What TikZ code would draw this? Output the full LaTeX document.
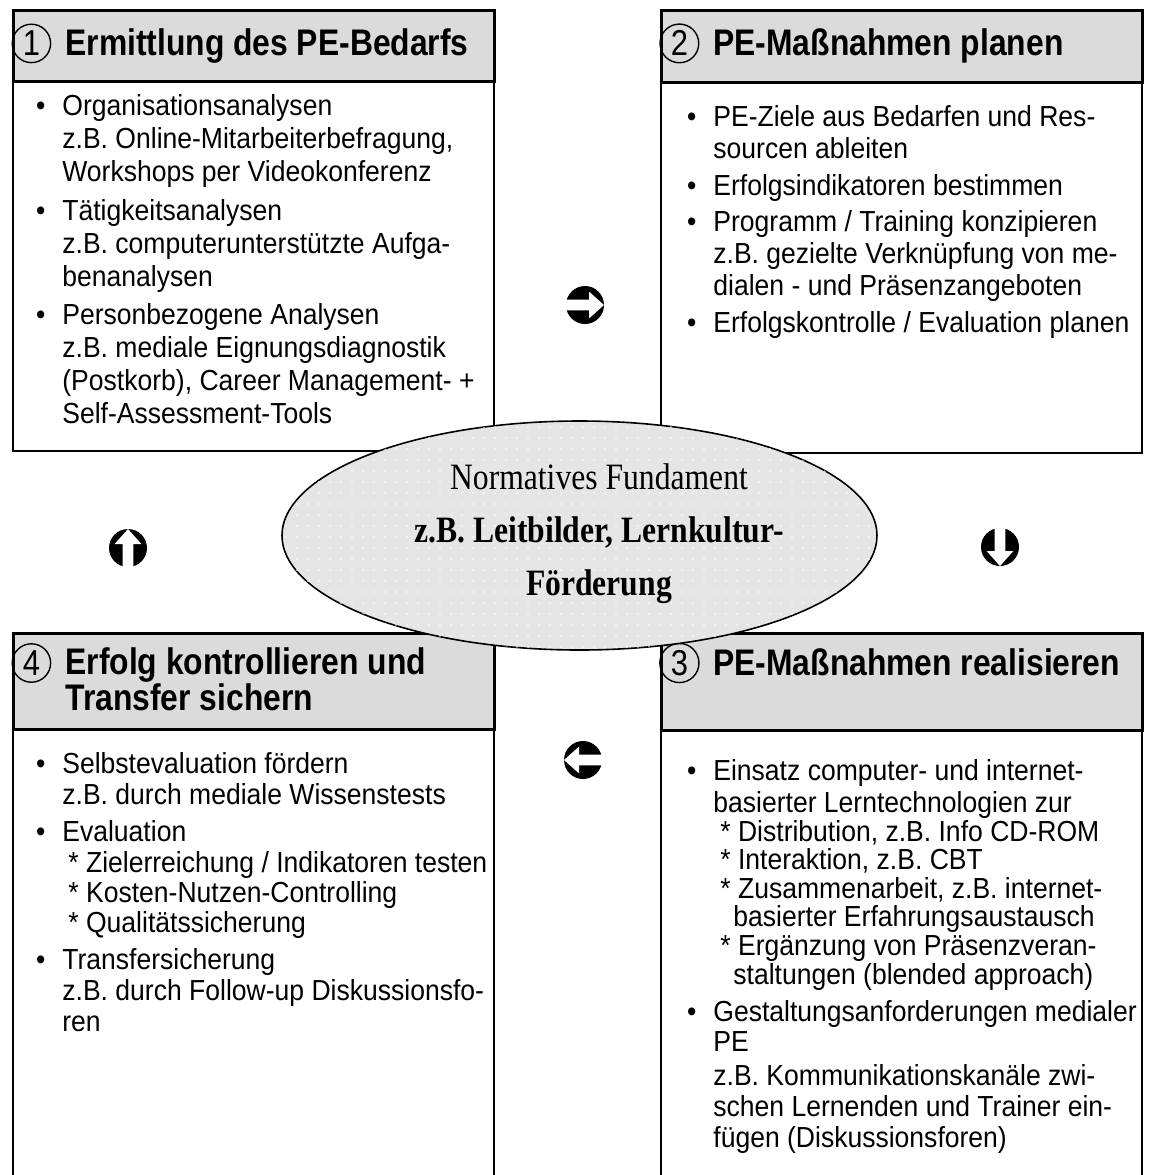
\documentclass[tikz,border=0pt]{standalone}
\usepackage{fontspec}
\setmainfont{Liberation Sans}[FakeStretch=0.915]
\newfontfamily\titlefont{Liberation Sans}[FakeStretch=0.86]
\newfontfamily\fundfont{Liberation Serif}[FakeStretch=0.85]
\usetikzlibrary{positioning,shapes.geometric,patterns.meta}
\definecolor{headgray}{rgb}{0.86,0.86,0.86}
\definecolor{ellgray}{rgb}{0.90,0.90,0.90}
\newcommand{\itembul}{\llap{\textbullet\hspace{8.5pt}}}

\begin{document}
\begin{tikzpicture}[x=1pt,y=1pt,
  frame/.style = {
    draw,
    rectangle,
    line width = 1pt,
    anchor = north west,
    minimum width = 240.5pt,
    inner sep = 0pt,
  },
  head/.style = {
    frame,
    line width = 1.3pt,
    fill = headgray,
  },
  nummark/.style = {
    draw,
    circle,
    line width = 0.7pt,
    minimum size = 18.5pt,
    inner sep = 1.5pt,
    font = \titlefont\fontsize{18}{18}\selectfont,
  },
  title/.style = {
    anchor = base west,
    align = left,
    inner sep = 0pt,
    font = \titlefont\bfseries\fontsize{18.5}{18}\selectfont,
  },
  items/.style = {
    anchor = base west,
    align = left,
    inner sep = 0pt,
    font = \fontsize{14.5}{#1}\selectfont,
  },
  fund/.style = {
    draw,
    ellipse,
    line width = 0.8pt,
    fill = ellgray,
    postaction = {pattern={Dots[distance=5.5pt,radius=0.45pt]}, pattern color=white},
    minimum width = 297.5pt,
    minimum height = 114.5pt,
    inner sep = 0pt,
  },
  cyc/.pic = {
    \node[circle,fill=black,minimum size=19pt,inner sep=0pt] (-disc) at (0,0) {};
    \fill[white] (-9.5,2.7) -- (2,2.7) -- (2,6.7) -- (9.5,0) -- (2,-6.7) -- (2,-2.7) -- (-9.5,-2.7) -- cycle;
  },
]

  \useasboundingbox (0,0) rectangle (575,-587.5);
  \clip (0,0) rectangle (575,-587.5);

  % the four boxes
  \node[frame,minimum height=220.5pt] (f1) at (6,-4.5) {};
  \node[head,minimum height=35.5pt] (h1) at (6,-4.5) {};
  \node[frame,minimum height=221.5pt] (f2) at (330,-4.5) {};
  \node[head,minimum height=36pt] (h2) at (330,-4.5) {};
  \node[frame,minimum height=300pt] (f4) at (6,-316) {};
  \node[head,minimum height=48pt] (h4) at (6,-316) {};
  \node[frame,minimum height=300pt] (f3) at (330,-316) {};
  \node[head,minimum height=48.5pt] (h3) at (330,-316) {};

  % titles
  \node[nummark] (n1) at (15.7,-21.7) {1};
  \node[title] (t1) at (32.5,-27.8) {Ermittlung des PE-Bedarfs};
  \node[nummark] (n2) at (339.7,-21.7) {2};
  \node[title] (t2) at (356.5,-27.8) {PE-Maßnahmen planen};
  \node[nummark] (n4) at (15.7,-331.5) {4};
  \node[title] (t4) at (32.5,-355) {Erfolg kontrollieren und\\Transfer sichern};
  \node[nummark] (n3) at (339.7,-331.5) {3};
  \node[title] (t3) at (356.5,-337.5) {PE-Maßnahmen realisieren};

  % contents (anchored at the last baseline)
  \node[items=16.5] (b1) at (31,-211.5) {%
    \itembul Organisationsanalysen\\
    z.B. Online-Mitarbeiterbefragung,\\
    Workshops per Videokonferenz\\[3pt]
    \itembul Tätigkeitsanalysen\\
    z.B. computerunterstützte Aufga-\\
    benanalysen\\[2.5pt]
    \itembul Personbezogene Analysen\\
    z.B. mediale Eignungsdiagnostik\\
    (Postkorb), Career Management- +\\
    Self-Assessment-Tools};

  \node[items=16] (b2) at (356.5,-166) {%
    \itembul PE-Ziele aus Bedarfen und Res-\\
    sourcen ableiten\\[2.2pt]
    \itembul Erfolgsindikatoren bestimmen\\[2.2pt]
    \itembul Programm / Training konzipieren\\
    z.B. gezielte Verknüpfung von me-\\
    dialen - und Präsenzangeboten\\[2.2pt]
    \itembul Erfolgskontrolle / Evaluation planen};

  \node[items=15.5] (b4) at (31,-515.5) {%
    \itembul Selbstevaluation fördern\\
    z.B. durch mediale Wissenstests\\[3pt]
    \itembul Evaluation\\
    \hspace*{3pt}* Zielerreichung / Indikatoren testen\\[-0.5pt]
    \hspace*{3pt}* Kosten-Nutzen-Controlling\\[-0.5pt]
    \hspace*{3pt}* Qualitätssicherung\\[3pt]
    \itembul Transfersicherung\\
    z.B. durch Follow-up Diskussionsfo-\\
    ren};

  \node[items=15.5] (b3) at (356.5,-573.5) {%
    \itembul Einsatz computer- und internet-\\[0.5pt]
    basierter Lerntechnologien zur\\[-1.2pt]
    \hspace*{3.5pt}* Distribution, z.B. Info CD-ROM\\[-1.2pt]
    \hspace*{3.5pt}* Interaktion, z.B. CBT\\[-1.2pt]
    \hspace*{3.5pt}* Zusammenarbeit, z.B. internet-\\[-1.2pt]
    \hspace*{10pt}basierter Erfahrungsaustausch\\[-1.2pt]
    \hspace*{3.5pt}* Ergänzung von Präsenzveran-\\[-1.2pt]
    \hspace*{10pt}staltungen (blended approach)\\[3pt]
    \itembul Gestaltungsanforderungen medialer\\[-0.5pt]
    PE\\[1.5pt]
    z.B. Kommunikationskanäle zwi-\\
    schen Lernenden und Trainer ein-\\
    fügen (Diskussionsforen)};

  % centre
  \node[fund] (ell) at (289.75,-267.75) {};
  \node[align=center,inner sep=0pt,anchor=base,font=\fundfont\fontsize{18.6}{26.5}\selectfont] (fundtext) at (299.5,-297.5) {%
    Normatives Fundament\\
    \textbf{z.B. Leitbilder, Lernkultur-}\\
    \textbf{Förderung}};

  % cycle arrows
  \pic (a12) at (292.5,-152.5) {cyc};
  \pic[rotate=-90] (a23) at (500,-273.5) {cyc};
  \pic[rotate=180] (a34) at (291.5,-380) {cyc};
  \pic[rotate=90] (a41) at (64,-274) {cyc};

\end{tikzpicture}
\end{document}
